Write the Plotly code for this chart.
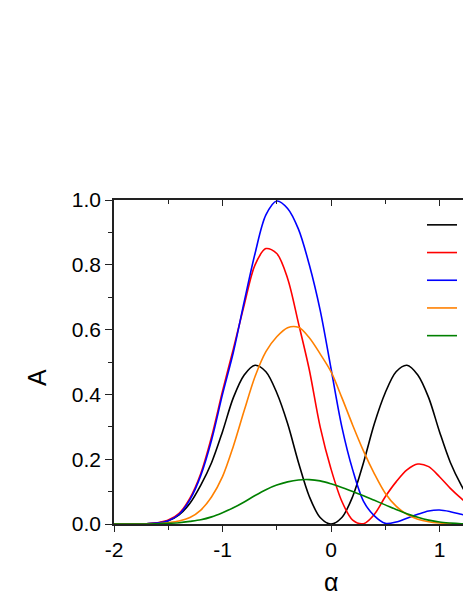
import plotly.graph_objects as go

# ---- data ----
alpha = [-2.0, -1.9, -1.8, -1.7, -1.6, -1.5, -1.4, -1.3, -1.2, -1.1, -1.0, -0.9, -0.8, -0.7,
         -0.6, -0.5, -0.4, -0.3, -0.2, -0.1, 0.0, 0.1, 0.2, 0.3, 0.4, 0.5, 0.6, 0.7, 0.8,
         0.9, 1.0, 1.1, 1.2, 1.3]

a_black = [0, 0, 0, 0.001, 0.003, 0.01, 0.028, 0.064, 0.12, 0.19, 0.285, 0.39, 0.46, 0.49,
           0.47, 0.405, 0.31, 0.19, 0.085, 0.02, 0.0, 0.02, 0.085, 0.19, 0.31, 0.405, 0.47,
           0.49, 0.46, 0.39, 0.285, 0.19, 0.12, 0.064]
a_red = [0, 0, 0, 0.001, 0.004, 0.012, 0.033, 0.08, 0.156, 0.27, 0.41, 0.54, 0.676, 0.80,
         0.85, 0.835, 0.758, 0.62, 0.476, 0.30, 0.17, 0.07, 0.012, 0.001, 0.03, 0.084, 0.13,
         0.167, 0.185, 0.177, 0.146, 0.11, 0.079, 0.052]
a_blue = [0, 0, 0, 0.001, 0.003, 0.01, 0.03, 0.075, 0.15, 0.26, 0.40, 0.53, 0.686, 0.835,
          0.954, 0.997, 0.974, 0.91, 0.80, 0.66, 0.48, 0.30, 0.167, 0.07, 0.025, 0.002, 0.006,
          0.018, 0.03, 0.04, 0.043, 0.038, 0.03, 0.022]
a_orange = [0, 0, 0, 0, 0.001, 0.004, 0.009, 0.02, 0.043, 0.084, 0.146, 0.24, 0.35, 0.455,
            0.532, 0.578, 0.606, 0.607, 0.575, 0.525, 0.47, 0.39, 0.305, 0.225, 0.155, 0.095,
            0.055, 0.03, 0.015, 0.007, 0.003, 0.001, 0, 0]
a_green = [0, 0, 0, 0, 0.001, 0.002, 0.004, 0.008, 0.013, 0.022, 0.035, 0.05, 0.068, 0.088,
           0.106, 0.12, 0.13, 0.136, 0.137, 0.133, 0.124, 0.113, 0.10, 0.087, 0.073, 0.059,
           0.045, 0.032, 0.021, 0.012, 0.006, 0.003, 0.001, 0]

series_names = ["", "", "", "", ""]
series_colors = ["#000000", "#ff0000", "#0000ff", "#ff8000", "#008000"]

x_tick_vals = [-2, -1, 0, 1, 2]
x_tick_text = ["-2", "-1", "0", "1", "2"]
y_tick_vals = [0.0, 0.2, 0.4, 0.6, 0.8, 1.0]
y_tick_text = ["0.0", "0.2", "0.4", "0.6", "0.8", "1.0"]

x_title = "α"
y_title = "A"

# ---- figure geometry (page body margin removed via post_script) ----
W, H = 463, 599
L = 114          # left edge of frame
T = 200          # top of frame
BOT = 524        # bottom of frame
B = H - BOT
PH = BOT - T
PW = W - L
px_per_unit = 108.5
x_min = -2.0
x_max = x_min + PW / px_per_unit   # the right part of the frame is cut by the window

def fx(px):   # pixel -> paper x
    return (px - L) / PW

def fy(py):   # pixel -> paper y
    return 1.0 - (py - T) / PH

FONT = "Liberation Sans, Arial, sans-serif"
AX = "#222222"

fig = go.Figure()
for ys, nm, col in zip([a_black, a_red, a_blue, a_orange, a_green], series_names, series_colors):
    fig.add_trace(go.Scatter(x=alpha, y=ys, mode="lines", name=nm,
                             line=dict(color=col, width=1.6, shape="spline", smoothing=0.9),
                             showlegend=True))
# invisible trace that carries the mirrored top axis
fig.add_trace(go.Scatter(x=alpha, y=a_black, xaxis="x2", mode="lines", opacity=0,
                         line=dict(width=0), showlegend=False, hoverinfo="skip"))

fig.update_layout(
    width=W, height=H,
    margin=dict(l=L, r=0, t=T, b=B, autoexpand=False),
    paper_bgcolor="white", plot_bgcolor="white",
    font=dict(family=FONT, size=21, color="#000000"),
    showlegend=True,
    legend=dict(x=fx(422), y=fy(206),
                xanchor="left", yanchor="top", bgcolor="rgba(0,0,0,0)",
                font=dict(size=19, family=FONT), tracegroupgap=0, itemwidth=30),
    xaxis=dict(range=[x_min, x_max], showgrid=False, zeroline=False,
               showline=True, linecolor=AX, linewidth=1.5,
               ticks="outside", ticklen=6, tickwidth=1.2, tickcolor=AX,
               tickvals=x_tick_vals, ticktext=x_tick_text,
               minor=dict(dtick=0.5, tick0=0, ticks="outside", ticklen=4, tickwidth=1.2, tickcolor=AX),
               tickfont=dict(size=21, family=FONT)),
    xaxis2=dict(overlaying="x", matches="x", anchor="y", side="top", showgrid=False, zeroline=False,
                showline=True, linecolor=AX, linewidth=1.5,
                ticks="inside", ticklen=6, tickwidth=1.2, tickcolor=AX,
                tickvals=x_tick_vals, showticklabels=False,
                minor=dict(dtick=0.5, tick0=0, ticks="inside", ticklen=4, tickwidth=1.2, tickcolor=AX)),
    yaxis=dict(range=[0, 1], showgrid=False, zeroline=False,
               showline=True, linecolor=AX, linewidth=1.5,
               ticks="outside", ticklen=7, tickwidth=1.2, tickcolor=AX,
               tickvals=y_tick_vals, ticktext=y_tick_text,
               minor=dict(dtick=0.1, tick0=0, ticks="outside", ticklen=4, tickwidth=1.2, tickcolor=AX),
               tickfont=dict(size=21, family=FONT)),
)

fig.add_annotation(text=y_title, xref="paper", yref="paper",
                   x=fx(37), y=fy(378),
                   showarrow=False, textangle=-90, font=dict(size=25, family=FONT),
                   xanchor="center", yanchor="middle")
fig.add_annotation(text=x_title, xref="x", yref="paper",
                   x=0, y=fy(582),
                   showarrow=False, font=dict(size=25, family=FONT),
                   xanchor="center", yanchor="middle")

fig.write_html("out.html",
               config={"displayModeBar": False},
               post_script="document.body.style.margin='0';document.body.style.overflow='hidden';")
